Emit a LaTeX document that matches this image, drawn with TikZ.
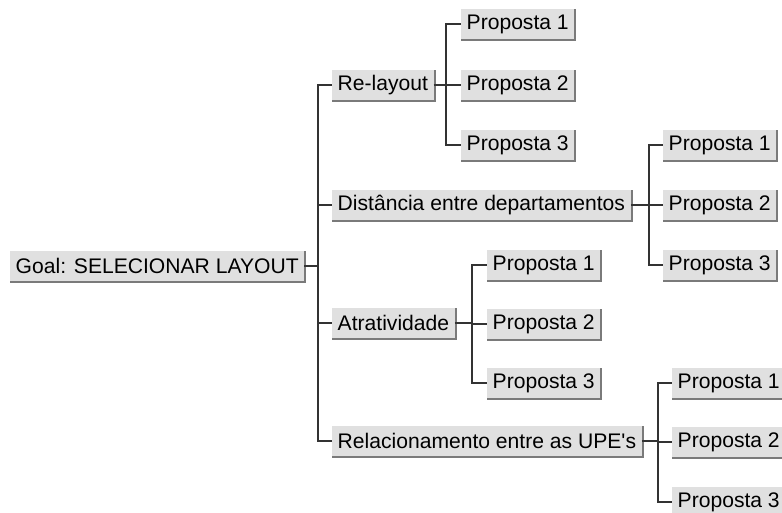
\documentclass[tikz,border=0pt]{standalone}
\usepackage{fontspec}
\setmainfont{Liberation Sans}
\begin{document}
\begin{tikzpicture}[x=1pt,y=-1pt,
  btn/.style={anchor=west, fill=btnface, inner xsep=5.5pt, inner ysep=0pt,
    minimum height=30pt, text=black,
    font=\fontsize{21.1}{22}\selectfont,
    append after command={
      \pgfextra{\draw[btnshade, line width=2pt]
        ([yshift=-1pt]\tikzlastnode.south west) -- ([xshift=1pt,yshift=-1pt]\tikzlastnode.south east)
        -- ([xshift=1pt]\tikzlastnode.north east);}}},
  link/.style={draw=black!80, line width=1.3pt}]
\definecolor{btnface}{HTML}{E0E0E0}
\definecolor{btnshade}{HTML}{7A7A7A}
\useasboundingbox (0,0) rectangle (782,513);
\clip (0,0) rectangle (782,513);

% root and first level
\node[btn] (goal) at (10,266) {Goal: SELECIONAR LAYOUT};
\node[btn] (rl) at (332,85) {Re-layout};
\node[btn] (dist) at (332,205) {Distância entre departamentos};
\node[btn] (atr) at (332,323) {Atratividade};
\node[btn] (rel) at (332,441) {Relacionamento entre as UPE\textquotesingle s};

% proposals under each criterion
\node[btn] (rl1) at (461,24) {Proposta 1};
\node[btn] (rl2) at (461,85) {Proposta 2};
\node[btn] (rl3) at (461,145) {Proposta 3};

\node[btn] (di1) at (663,145) {Proposta 1};
\node[btn] (di2) at (663,205) {Proposta 2};
\node[btn] (di3) at (663,265) {Proposta 3};

\node[btn] (at1) at (487,265) {Proposta 1};
\node[btn] (at2) at (487,324) {Proposta 2};
\node[btn] (at3) at (487,383) {Proposta 3};

\node[btn] (re1) at (672,383) {Proposta 1};
\node[btn] (re2) at (672,442) {Proposta 2};
\node[btn] (re3) at (672,502) {Proposta 3};

% branching points
\coordinate (j0) at (318,266);
\coordinate (jrl) at (446,85);
\coordinate (jdi) at (649,205);
\coordinate (jat) at (472,323);
\coordinate (jre) at (658,441);

\draw[link] (goal.east) -- (j0);
\foreach \c in {rl,dist,atr,rel} \draw[link] (j0) |- (\c.west);

\draw[link] (rl.east) -- (jrl);
\foreach \c in {rl1,rl2,rl3} \draw[link] (jrl) |- (\c.west);

\draw[link] (dist.east) -- (jdi);
\foreach \c in {di1,di2,di3} \draw[link] (jdi) |- (\c.west);

\draw[link] (atr.east) -- (jat);
\foreach \c in {at1,at2,at3} \draw[link] (jat) |- (\c.west);

\draw[link] (rel.east) -- (jre);
\foreach \c in {re1,re2,re3} \draw[link] (jre) |- (\c.west);
\end{tikzpicture}
\end{document}
